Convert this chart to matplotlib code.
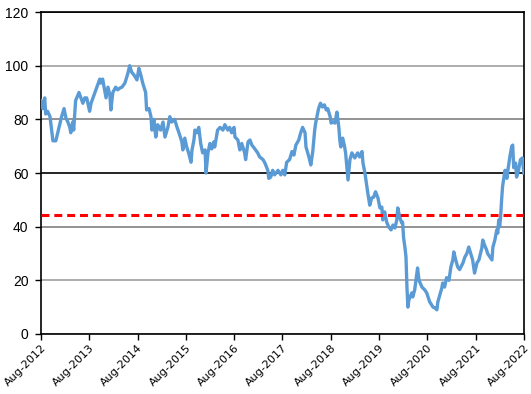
import matplotlib
matplotlib.use("Agg")
import matplotlib.pyplot as plt

# time in decimal years, value
years = [2012.58, 2012.62, 2012.66, 2012.68, 2012.72, 2012.77, 2012.83, 2012.89, 2012.93, 2012.97,
         2013.01, 2013.06, 2013.10, 2013.14, 2013.18, 2013.20, 2013.24, 2013.26, 2013.30, 2013.37,
         2013.41, 2013.45, 2013.49, 2013.53, 2013.59, 2013.62, 2013.66, 2013.70, 2013.76, 2013.80,
         2013.82, 2013.86, 2013.91, 2013.93, 2013.97, 2014.01, 2014.03, 2014.07, 2014.13, 2014.17,
         2014.22, 2014.26, 2014.32, 2014.38, 2014.42, 2014.46, 2014.51, 2014.57, 2014.61, 2014.65,
         2014.69, 2014.75, 2014.77, 2014.82, 2014.86, 2014.88, 2014.92, 2014.96, 2015.00, 2015.06,
         2015.11, 2015.15, 2015.21, 2015.25, 2015.29, 2015.35, 2015.40, 2015.44, 2015.50, 2015.52,
         2015.56, 2015.60, 2015.64, 2015.69, 2015.71, 2015.75, 2015.77, 2015.81, 2015.85, 2015.89,
         2015.93, 2015.98, 2016.00, 2016.04, 2016.08, 2016.12, 2016.16, 2016.18, 2016.24, 2016.29,
         2016.35, 2016.39, 2016.45, 2016.49, 2016.53, 2016.58, 2016.60, 2016.66, 2016.70, 2016.74,
         2016.80, 2016.82, 2016.87, 2016.91, 2016.95, 2017.01, 2017.07, 2017.11, 2017.18, 2017.22,
         2017.28, 2017.30, 2017.34, 2017.38, 2017.42, 2017.49, 2017.55, 2017.59, 2017.63, 2017.67,
         2017.73, 2017.78, 2017.82, 2017.86, 2017.92, 2017.96, 2018.00, 2018.05, 2018.07, 2018.13,
         2018.17, 2018.21, 2018.25, 2018.27, 2018.33, 2018.37, 2018.41, 2018.45, 2018.49, 2018.52,
         2018.57, 2018.59, 2018.63, 2018.67, 2018.71, 2018.75, 2018.77, 2018.79, 2018.83, 2018.87,
         2018.89, 2018.94, 2018.98, 2019.02, 2019.08, 2019.14, 2019.18, 2019.23, 2019.25, 2019.29,
         2019.33, 2019.35, 2019.39, 2019.43, 2019.47, 2019.51, 2019.56, 2019.60, 2019.64, 2019.66,
         2019.70, 2019.74, 2019.78, 2019.83, 2019.87, 2019.91, 2019.95, 2019.97, 2020.01, 2020.05,
         2020.07, 2020.09, 2020.12, 2020.14, 2020.16, 2020.18, 2020.20, 2020.26, 2020.28, 2020.32,
         2020.36, 2020.38, 2020.41, 2020.47, 2020.53, 2020.57, 2020.63, 2020.70, 2020.74, 2020.78,
         2020.80, 2020.84, 2020.88, 2020.90, 2020.94, 2020.98, 2021.03, 2021.07, 2021.11, 2021.13,
         2021.17, 2021.21, 2021.25, 2021.32, 2021.36, 2021.40, 2021.44, 2021.48, 2021.52, 2021.56,
         2021.61, 2021.65, 2021.71, 2021.73, 2021.77, 2021.81, 2021.83, 2021.88, 2021.92, 2021.94,
         2021.98, 2022.02, 2022.04, 2022.06, 2022.08, 2022.10, 2022.12, 2022.14, 2022.19, 2022.23,
         2022.25, 2022.29, 2022.33, 2022.35, 2022.37, 2022.41, 2022.43, 2022.47, 2022.51, 2022.55,
         2022.58]
values = [87, 84, 88, 82, 83, 81, 72, 72, 75, 78,
          81, 84, 80.5, 79, 77, 75, 79, 76, 87, 90,
          88, 86, 88, 88, 83, 86, 88, 90, 93, 95,
          93.5, 95, 90, 88, 92, 89, 83.5, 90, 92, 91,
          91.7, 92, 93.5, 97, 100, 97.6, 96.5, 94.7, 99, 96.5,
          93.5, 90, 83.5, 84, 81, 76, 80, 73.4, 78, 76,
          79, 73.4, 77, 81, 79, 80, 77, 75, 71.6, 68.6,
          73, 69.7, 67.5, 64, 68.6, 72.3, 76, 75, 77, 71,
          67.5, 68.6, 60, 67.5, 71, 69, 71.6, 69.7, 76, 77,
          76, 78, 76, 77, 75, 77, 73.4, 72.3, 68.6, 71,
          67.5, 65, 71.6, 72.3, 70.4, 69, 67.5, 66, 65, 63.7,
          61, 58, 58.5, 61, 59.3, 61, 59.3, 61, 59.3, 64,
          65, 68, 66.7, 70.4, 72.3, 75, 77, 75, 69.7, 66,
          63, 68, 76, 78.6, 84, 86, 84.6, 85.4, 83.5, 84,
          81, 78.6, 79, 78.6, 82.7, 77, 72.3, 69.7, 73, 69.7,
          67.5, 57.4, 65, 67.5, 65.6, 67.5, 66, 68, 63.7, 60,
          54.8, 52.5, 48, 50.7, 51, 53, 50.7, 47, 47.3, 42.5,
          45.5, 41.7, 40, 38.8, 40.6, 39.5, 42.5, 47, 43.6, 41.4,
          41.7, 36, 32, 28.7, 17.5, 10, 12.7, 15.3, 13.8, 16.4,
          22, 24.6, 20, 17.5, 16.4, 15.3, 12, 10, 9.7, 9,
          12, 14.5, 17, 19, 17.5, 21, 20, 25, 27.6, 30.6,
          27.6, 25, 24, 26.5, 28.7, 30, 32.4, 30, 27.6, 22.7,
          26.5, 27.6, 32, 35, 33, 31.3, 30, 28.7, 27.6, 32.4,
          35, 38.8, 37.6, 42.5, 40, 44, 50, 55, 61, 58,
          61, 66, 70, 70.4, 62, 63.7, 58.5, 61, 65, 65.6,
          60]

reference_level = 44.5
tick_years = [2012, 2013, 2014, 2015, 2016, 2017, 2018, 2019, 2020, 2021, 2022]
tick_labels = ["Aug-%d" % y for y in tick_years]
y_ticks = [0, 20, 40, 60, 80, 100, 120]

fig = plt.figure(figsize=(5.31, 3.94), dpi=100)
ax = fig.add_axes([0.0772, 0.1523, 0.9096, 0.8172])

ax.plot(years, values, color="#5B9BD5", linewidth=2.4, solid_joinstyle="round", zorder=3)
ax.axhline(reference_level, color="#FF0000", linewidth=2.2, dashes=(2.6, 1.6), zorder=4)

x0 = 2012 + 7 / 12
ax.set_xlim(x0, x0 + 10)
ax.set_ylim(0, 120)
ax.set_xticks([x0 + (y - 2012) for y in tick_years])
ax.set_xticklabels(tick_labels, rotation=45, ha="right", va="top",
                   rotation_mode="anchor", fontsize=8, family="DejaVu Sans")
ax.set_yticks(y_ticks)
ax.set_yticklabels([str(v) for v in y_ticks], fontsize=10, family="Liberation Sans")
ax.tick_params(axis="both", direction="out", length=4, width=1, color="black")
ax.tick_params(axis="y", pad=5)
ax.tick_params(axis="x", pad=2)

ax.yaxis.grid(True, linewidth=1.2)
grid_colors = ["#A0A0A0", "#A0A0A0", "#808080", "#000000", "#808080", "#A0A0A0", "#000000"]
for gl, c in zip(ax.get_ygridlines(), grid_colors):
    gl.set_color(c)
ax.set_axisbelow(True)

for s in ax.spines.values():
    s.set_color("black")
    s.set_linewidth(1.2)

fig.savefig("out.png", dpi=100)
